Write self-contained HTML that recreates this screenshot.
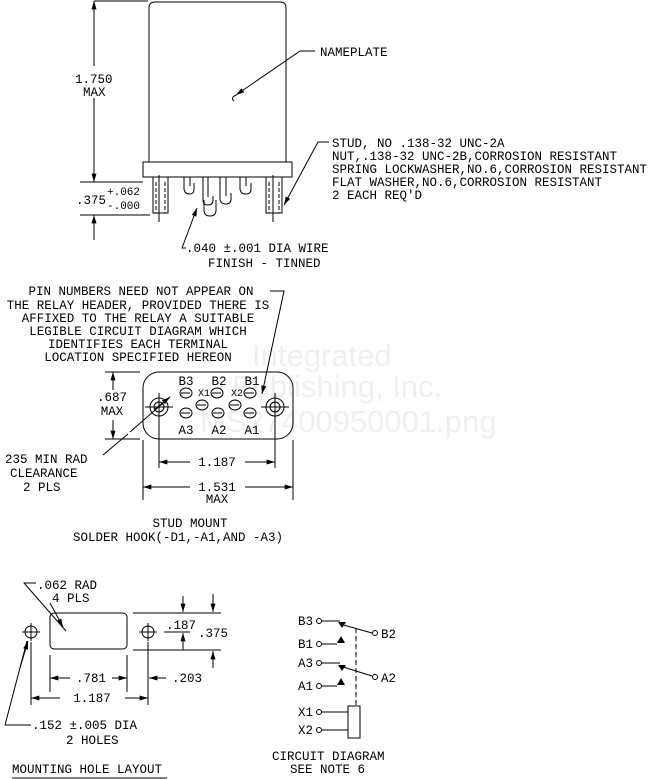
<!DOCTYPE html>
<html><head><meta charset="utf-8"><style>
html,body{margin:0;padding:0;background:#fff}
svg{display:block}
text{font-family:"Liberation Mono",monospace;font-size:12.5px;fill:#000}
.w{font-family:"Liberation Sans",sans-serif;font-size:31px;fill:#efefef}
</style></head><body>
<svg width="660" height="779" viewBox="0 0 660 779" xmlns="http://www.w3.org/2000/svg">
<defs>
<marker id="a" viewBox="0 0 10 6" refX="10" refY="3" markerWidth="9" markerHeight="5" orient="auto-start-reverse" markerUnits="userSpaceOnUse"><path d="M0,0L10,3L0,6z" fill="#000"/></marker>
</defs>
<!-- watermark -->
<text class="w" x="252" y="366">Integrated</text>
<text class="w" x="232" y="397">Publishing, Inc.</text>
<text class="w" x="200" y="432">MS27400950001.png</text>

<g fill="none" stroke="#000" stroke-width="1">
<!-- relay body -->
<path d="M149,162 V8 Q149,2 155,2 H280 Q286,2 286,8 V162"/>
<rect x="143" y="162" width="149" height="15"/>
<!-- studs -->
<rect x="153" y="177" width="15" height="36"/>
<rect x="266" y="177" width="16" height="36"/>
<path d="M156,182 V213 M165,182 V213 M269,182 V213 M279,182 V213" stroke-dasharray="4,2"/>
<path d="M159,175 V222 M273,175 V222"/>
<!-- hooks -->
<path d="M184,177 V188 Q184,194 190,194 Q194,194 194,189 V183 M190,177 V186"/>
<path d="M203,177 V200 Q203,205 208,205 Q213,205 213,200 V196 M208,177 V197"/>
<path d="M204,200 V210 Q204,216 210,216 Q216,216 216,210 V200"/>
<path d="M220,177 V198 Q220,204 226,204 Q231,204 231,199 V193 M226,177 V196"/>
<path d="M240,177 V188 Q240,194 246,194 Q251,194 251,189 V183 M246,177 V186"/>
<!-- 1.750 dim -->
<path d="M94,1 H148 M80,182 H143 M80,215 H150"/>
<path d="M94,66 V1" marker-end="url(#a)"/><path d="M94,98 V182" marker-end="url(#a)"/>
<path d="M94,240 V215" marker-end="url(#a)"/>
<path d="M94,182 V175"/>
<!-- nameplate leader -->
<path d="M315,51 H300 L236,95" marker-end="url(#a)"/>
<path d="M236,95 Q230,98 234,101"/>
<!-- stud leader -->
<path d="M329,142 H318 L284,205" marker-end="url(#a)"/>
<!-- wire leader -->
<path d="M186,248 H182 L197,208" marker-end="url(#a)"/>
<!-- pin note leader -->
<path d="M270,291 H284 L262,394" marker-end="url(#a)"/>
<!-- header -->
<rect x="143" y="372" width="150" height="67" rx="16"/>
<circle cx="159" cy="407" r="9"/><circle cx="159" cy="407" r="5"/>
<circle cx="275" cy="407" r="9"/><circle cx="275" cy="407" r="5"/>
<path d="M145,407 H173 M159,393 V421 M261,407 H289 M275,393 V421"/>
<g>
<ellipse cx="186" cy="393" rx="6" ry="5"/><ellipse cx="217" cy="393" rx="6" ry="5"/><ellipse cx="250" cy="393" rx="6" ry="5"/>
<ellipse cx="202" cy="405" rx="6" ry="5"/><ellipse cx="235" cy="405" rx="6" ry="5"/>
<ellipse cx="186" cy="413" rx="6" ry="5"/><ellipse cx="218" cy="413" rx="6" ry="5"/><ellipse cx="250" cy="413" rx="6" ry="5"/>
<path d="M181,393 H190 M212,393 H221 M245,393 H254 M197,405 H206 M230,405 H239 M181,413 H190 M213,413 H222 M245,413 H254"/>
</g>
<!-- .687 dim -->
<path d="M105,372 H140 M105,439 H140"/>
<path d="M113,390 V372" marker-end="url(#a)"/><path d="M113,420 V439" marker-end="url(#a)"/>
<!-- 235 leader -->
<path d="M103,455 L128,434 M130,432 L170,397" /><path d="M155,409 L170,397" marker-end="url(#a)"/>
<!-- 1.187 / 1.531 -->
<path d="M159,421 V468 M275,421 V468 M143,440 V500 M293,440 V500"/>
<path d="M190,462 H159" marker-end="url(#a)"/><path d="M245,462 H275" marker-end="url(#a)"/>
<path d="M190,487 H143" marker-end="url(#a)"/><path d="M245,487 H293" marker-end="url(#a)"/>

<!-- mounting hole layout -->
<rect x="50" y="613" width="77" height="36" rx="4"/>
<circle cx="31" cy="632" r="6"/><circle cx="148" cy="632" r="6"/>
<path d="M22,632 H40 M31,623 V641 M139,632 H157 M148,623 V641"/>
<path d="M36,583 H24 L66,631" /><path d="M50,603 L63,627" marker-end="url(#a)"/>
<path d="M31,642 V705 M50,655 V692 M127,655 V692 M148,642 V705"/>
<path d="M70,678 H50" marker-end="url(#a)"/><path d="M112,678 H127" marker-end="url(#a)"/>
<path d="M60,698 H31" marker-end="url(#a)"/><path d="M125,698 H148" marker-end="url(#a)"/>
<path d="M166,678 H149" marker-end="url(#a)"/>
<path d="M133,613 H221 M133,650 H221"/>
<path d="M164,632 H190"/>
<path d="M183,596 V612" marker-end="url(#a)"/><path d="M183,650 V633" marker-end="url(#a)"/>
<path d="M213,594 V612" marker-end="url(#a)"/><path d="M213,668 V651" marker-end="url(#a)"/>
<path d="M5,725 H31 M5,725 L27,641"/><path d="M20,668 L28,641" marker-end="url(#a)"/>
<path d="M12,778 H167"/>

<!-- circuit -->
<circle cx="319" cy="621" r="2.5"/><path d="M321,621 H340"/>
<circle cx="319" cy="644" r="2.5"/><path d="M321,644 H337"/>
<circle cx="319" cy="663" r="2.5"/><path d="M321,663 H340"/>
<circle cx="319" cy="686" r="2.5"/><path d="M321,686 H337"/>
<circle cx="375" cy="633" r="2.5"/><path d="M340,624 L372,633"/>
<circle cx="375" cy="677" r="2.5"/><path d="M340,666 L372,676"/>
<circle cx="319" cy="712" r="2.5"/><path d="M321,712 H348"/>
<circle cx="319" cy="730" r="2.5"/><path d="M321,730 H348"/>
<rect x="348" y="706" width="12" height="32"/>
<path d="M356,628 V706" stroke-dasharray="5,3"/>
</g>
<g fill="#000">
<path d="M338,622 L346,622 L342,628z"/><path d="M338,665 L346,665 L342,671z"/>
<path d="M337,643 L345,643 L341,636z"/><path d="M337,685 L345,685 L341,678z"/>
</g>

<!-- texts -->
<text x="320" y="56">NAMEPLATE</text>
<text x="75" y="83">1.750</text><text x="83" y="96">MAX</text>
<text x="76" y="204">.375</text>
<text x="107" y="195" style="font-size:11px">+.062</text>
<text x="107" y="209" style="font-size:11px">-.000</text>
<text x="332" y="147">STUD, NO .138-32 UNC-2A</text>
<text x="332" y="160">NUT,.138-32 UNC-2B,CORROSION RESISTANT</text>
<text x="332" y="173">SPRING LOCKWASHER,NO.6,CORROSION RESISTANT</text>
<text x="332" y="186">FLAT WASHER,NO.6,CORROSION RESISTANT</text>
<text x="332" y="199">2 EACH REQ'D</text>
<text x="186" y="252">.040 ±.001 DIA WIRE</text>
<text x="208" y="267">FINISH - TINNED</text>
<g text-anchor="middle">
<text x="141" y="295">PIN NUMBERS NEED NOT APPEAR ON</text>
<text x="138" y="309">THE RELAY HEADER, PROVIDED THERE IS</text>
<text x="138" y="322">AFFIXED TO THE RELAY A SUITABLE</text>
<text x="138" y="335">LEGIBLE CIRCUIT DIAGRAM WHICH</text>
<text x="138" y="348">IDENTIFIES EACH TERMINAL</text>
<text x="138" y="361">LOCATION SPECIFIED HEREON</text>
<text x="186" y="385">B3</text><text x="219" y="385">B2</text><text x="252" y="385">B1</text>
<text x="186" y="434">A3</text><text x="219" y="434">A2</text><text x="252" y="434">A1</text>
<text x="204" y="396" style="font-size:10px">X1</text><text x="237" y="396" style="font-size:10px">X2</text>
<text x="112" y="401">.687</text><text x="112" y="415">MAX</text>
<text x="217" y="466">1.187</text>
<text x="217" y="491">1.531</text><text x="217" y="503">MAX</text>
<text x="190" y="527">STUD MOUNT</text>
<text x="178" y="541">SOLDER HOOK(-D1,-A1,AND -A3)</text>
<text x="91" y="682">.781</text>
<text x="92" y="702">1.187</text>
</g>
<text x="5" y="463">235 MIN RAD</text>
<text x="10" y="477">CLEARANCE</text>
<text x="23" y="491">2 PLS</text>
<text x="37" y="589">.062 RAD</text>
<text x="52" y="602">4 PLS</text>
<text x="166" y="629">.187</text>
<text x="198" y="637">.375</text>
<text x="172" y="682">.203</text>
<text x="32" y="729">.152 ±.005 DIA</text>
<text x="66" y="744">2 HOLES</text>
<text x="12" y="773">MOUNTING HOLE LAYOUT</text>
<text x="298" y="625">B3</text><text x="298" y="648">B1</text>
<text x="298" y="667">A3</text><text x="298" y="690">A1</text>
<text x="381" y="638">B2</text><text x="381" y="682">A2</text>
<text x="298" y="716">X1</text><text x="298" y="734">X2</text>
<text x="272" y="760">CIRCUIT DIAGRAM</text>
<text x="290" y="773">SEE NOTE 6</text>
</svg>
</body></html>
